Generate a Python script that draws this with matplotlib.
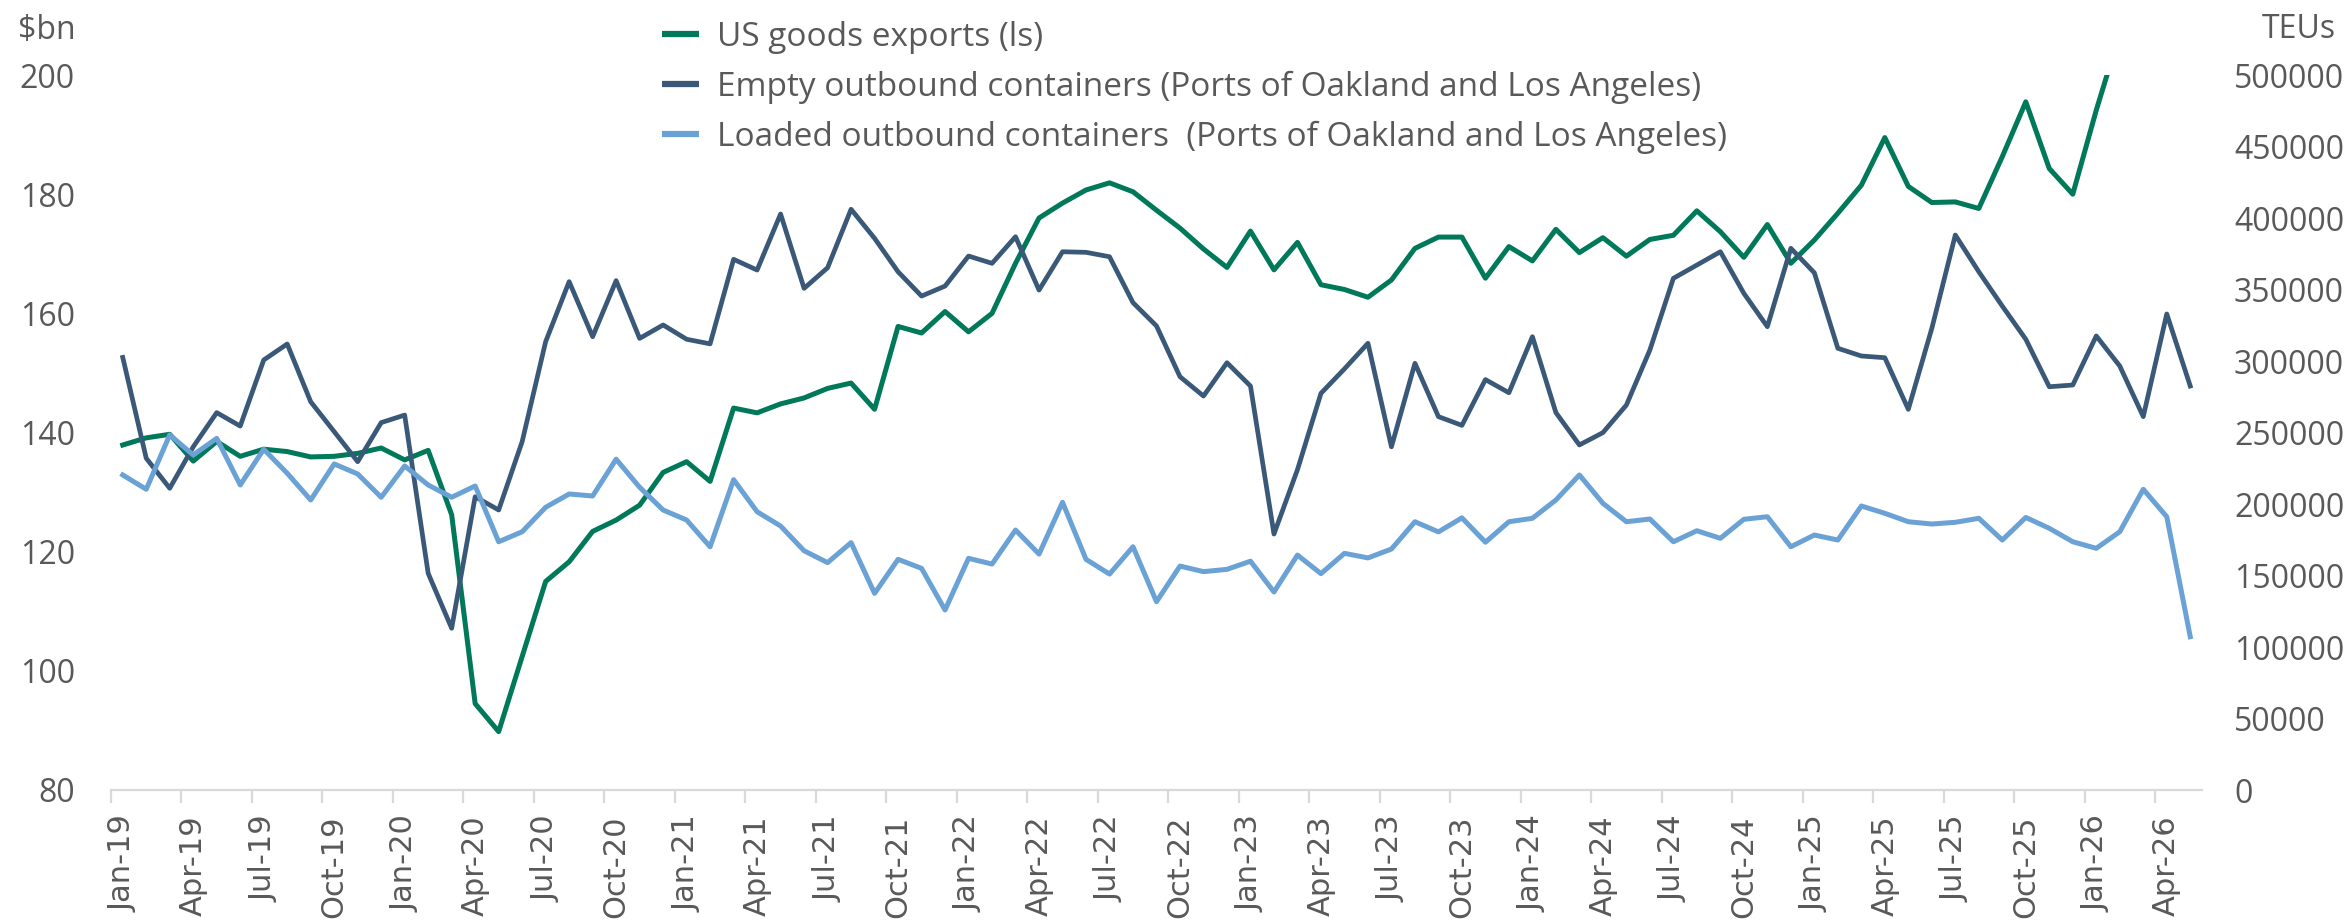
import numpy as np
import pandas as pd
import matplotlib
matplotlib.use("Agg")
import matplotlib.pyplot as plt
from matplotlib.ticker import FixedLocator, NullFormatter

# month categories, Jan-19 .. May-26
months = pd.date_range("2019-01-01", periods=89, freq="MS").strftime("%b-%y").tolist()

# US goods exports, $bn (left scale) - ends Feb-26
exports = [137.9, 139.1, 139.7, 135.2, 138.5, 136.0, 137.2, 136.8, 135.9, 136.0,
           136.5, 137.4, 135.4, 137.0, 126.2, 94.5, 89.8, 102.4, 115.0, 118.3,
           123.4, 125.3, 127.8, 133.3, 135.1, 131.8, 144.1, 143.3, 144.8, 145.8,
           147.4, 148.3, 143.9, 157.8, 156.7, 160.3, 156.9, 160.0, 168.4, 176.0,
           178.5, 180.7, 181.9, 180.4, 177.3, 174.3, 170.8, 167.7, 173.8, 167.3,
           171.9, 164.8, 164.0, 162.7, 165.6, 170.9, 172.8, 172.8, 165.9, 171.2,
           168.8, 174.1, 170.2, 172.7, 169.6, 172.4, 173.1, 177.2, 173.7, 169.4,
           174.9, 168.4, 172.3, 176.8, 181.5, 189.5, 181.3, 178.6, 178.7, 177.6,
           186.3, 195.5, 184.3, 180.0, 194.1, 207.0]

# Empty outbound containers, TEUs (right scale)
empty = [302500, 232000, 211000, 240000, 263900, 254500, 300700, 311900, 271500, 250600,
         229600, 256900, 262200, 151500, 113100, 205100, 195800, 243600, 313500, 355500,
         317000, 356200, 315800, 325200, 315200, 312000, 371100, 363600, 402800, 350800,
         365200, 406100, 385800, 362400, 345400, 352400, 373400, 368300, 386900, 349600,
         376400, 376000, 372900, 340800, 324500, 289000, 275500, 298800, 282500, 179000,
         224000, 277400, 294500, 312400, 240000, 298400, 261100, 255000, 287000, 277800,
         317000, 263900, 241300, 249900, 269200, 307700, 357800, 367100, 376400, 347300,
         324000, 378800, 361700, 308900, 303500, 302300, 266200, 322800, 388100, 362400,
         338400, 315200, 282000, 283200, 317500, 296500, 261100, 332900, 282500]

# Loaded outbound containers, TEUs (right scale)
loaded = [220300, 210300, 248300, 234300, 245900, 213300, 238300, 221500, 202800, 228000,
          221000, 204700, 226600, 213300, 204700, 212600, 173600, 180600, 197700, 207000,
          205600, 231300, 211700, 195800, 188800, 170100, 217000, 194600, 184600, 167300,
          159000, 173000, 137500, 161300, 155000, 125900, 162000, 158000, 181800, 165000,
          201200, 161300, 151000, 170100, 131700, 156600, 152700, 154300, 160000, 138500,
          164300, 151300, 165500, 162300, 168500, 187600, 180500, 190300, 173300, 187600,
          190000, 202800, 220300, 200500, 187600, 189500, 173600, 181300, 176000, 189300,
          191100, 170100, 178300, 174800, 198600, 193500, 187600, 186000, 187200, 190000,
          174800, 190600, 183000, 173600, 169000, 180600, 210300, 191100, 107200]

green = "#00785A"
dark = "#3A5878"
light = "#6BA2D5"
grey = "#595959"
axis_grey = "#D9D9D9"

plt.rcParams["font.family"] = ["Open Sans", "DejaVu Sans"]

fig = plt.figure(figsize=(23.51, 9.23), dpi=100)
ax = fig.add_axes([111/2351, 1 - 790/923, (2202 - 111)/2351, (790 - 75)/923])
ax2 = ax.twinx()

x = np.arange(len(months))
l1, = ax.plot(x[:len(exports)], exports, color=green, lw=3.6, solid_joinstyle="round")
l2, = ax2.plot(x[:len(empty)], empty, color=dark, lw=3.4, solid_joinstyle="round")
l3, = ax2.plot(x[:len(loaded)], loaded, color=light, lw=3.6, solid_joinstyle="round")

ax.set_xlim(-0.5, len(months) - 0.5)
ax.set_ylim(80, 200)
ax2.set_ylim(0, 500000)
ax.set_yticks(np.arange(80, 201, 20))
ax2.set_yticks(np.arange(0, 500001, 50000))
ax2.set_yticklabels([str(v) for v in range(0, 500001, 50000)])

# labels at category centres, tick marks on category boundaries
ax.set_xticks(x[::3])
ax.set_xticklabels(months[::3], rotation=90, fontsize=22, color=grey,
                   family="DejaVu Sans")
ax.xaxis.set_minor_locator(FixedLocator(np.arange(-0.5, len(months), 3)))
ax.xaxis.set_minor_formatter(NullFormatter())
ax.tick_params(axis="x", which="major", length=0, pad=18)
ax.tick_params(axis="x", which="minor", length=9, width=1.6, color=axis_grey)

ax.tick_params(axis="y", length=0, labelsize=23, labelcolor=grey, pad=26)
ax2.tick_params(axis="y", length=0, labelsize=23, labelcolor=grey, pad=23)

for a in (ax, ax2):
    for s in ("top", "left", "right", "bottom"):
        a.spines[s].set_visible(False)
ax.spines["bottom"].set_visible(True)
ax.spines["bottom"].set_color(axis_grey)
ax.spines["bottom"].set_linewidth(1.6)

fig.text(18/2351, 1 - 39/923, "$bn", fontsize=23, color=grey, va="baseline", ha="left")
fig.text(2336/2351, 1 - 38/923, "TEUs", fontsize=23, color=grey, va="baseline", ha="right")

leg = fig.legend([l1, l2, l3],
                 ["US goods exports (ls)",
                  "Empty outbound containers (Ports of Oakland and Los Angeles)",
                  "Loaded outbound containers  (Ports of Oakland and Los Angeles)"],
                 loc="upper left", bbox_to_anchor=(662/2351, 1 - 21/923),
                 frameon=False, fontsize=24, handlelength=1.1, handletextpad=0.55,
                 labelspacing=0.5, borderpad=0, borderaxespad=0)
for t in leg.get_texts():
    t.set_color(grey)
for h in leg.legend_handles:
    h.set_linewidth(4.5)
    h.set_solid_capstyle("butt")

fig.savefig("out.png", dpi=100)
